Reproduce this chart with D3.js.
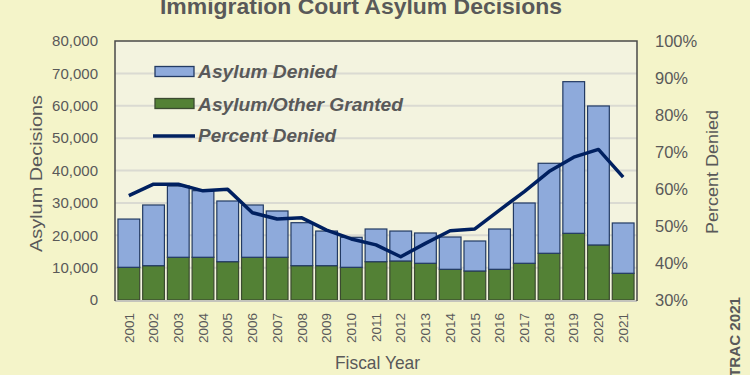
<!DOCTYPE html>
<html>
<head>
<meta charset="utf-8">
<script src="https://cdn.jsdelivr.net/npm/d3@7"></script>
<style>
  body { margin: 0; background: #f4f4c9; }
  text { font-family: "Liberation Sans", Arial, sans-serif; fill: #595959; }
</style>
</head>
<body>
<div id="chart"></div>
<script>
const years = ["2001", "2002", "2003", "2004", "2005", "2006", "2007", "2008", "2009", "2010", "2011",
    "2012", "2013", "2014", "2015", "2016", "2017", "2018", "2019", "2020", "2021"]
const grantedValues = [10100, 10600, 13200, 13200, 11830, 13200, 13200, 10600, 10600, 10100, 11830,
    12050, 11340, 9480, 8960, 9480, 11340, 14430, 20600, 17000, 8250]
const deniedValues = [14900, 18750, 22000, 20570, 18750, 16150, 14300, 13280, 10700, 9270, 10100,
    9250, 9360, 9980, 9265, 12450, 18620, 27800, 46840, 42930, 15540]
const percentDenied = [58.2, 61.3, 61.3, 59.5, 59.9, 53.6, 51.9, 52.2, 48.9, 46.5, 44.9,
    41.7, 45.3, 48.7, 49.2, 54.3, 59.3, 64.7, 68.6, 70.7, 63.2]
const leftTicks = [0, 10000, 20000, 30000, 40000, 50000, 60000, 70000, 80000]
const rightTicks = [30, 40, 50, 60, 70, 80, 90, 100]
const legendLabels = ["Asylum Denied", "Asylum/Other Granted", "Percent Denied"]

class AsylumChart {
    constructor(_config) {
        this.config = {
            parentElement: _config.parentElement,
            containerWidth: 750,
            containerHeight: 375,
            plot: { left: 115, right: 637, top: 41, bottom: 300 }
        }
        this.data = years.map((y, i) => ({
            year: y,
            granted: grantedValues[i],
            denied: deniedValues[i],
            pct: percentDenied[i]
        }))
        this.initVis()
    }

    initVis() {
        var vis = this
        var p = vis.config.plot

        vis.svg = d3.select(vis.config.parentElement).append("svg")
            .attr("width", vis.config.containerWidth)
            .attr("height", vis.config.containerHeight)

        vis.svg.append("rect")
            .attr("width", vis.config.containerWidth)
            .attr("height", vis.config.containerHeight)
            .attr("fill", "#f4f4c9")

        vis.xScale = d3.scaleBand()
            .domain(years)
            .range([p.left, p.right])
            .paddingInner(0.12)
            .paddingOuter(0.12)
        vis.yScale = d3.scaleLinear()
            .domain([0, 80000])
            .range([p.bottom, p.top])
        vis.pScale = d3.scaleLinear()
            .domain([30, 100])
            .range([p.bottom, p.top])

        // plot area
        vis.svg.append("rect")
            .attr("x", p.left).attr("y", p.top)
            .attr("width", p.right - p.left).attr("height", p.bottom - p.top)
            .attr("fill", "#f3f3df")

        vis.svg.selectAll(".grid")
            .data(leftTicks.filter(d => d > 0 && d < 80000))
            .join("line")
            .attr("class", "grid")
            .attr("x1", p.left).attr("x2", p.right)
            .attr("y1", d => vis.yScale(d)).attr("y2", d => vis.yScale(d))
            .attr("stroke", "#dadad2")
            .attr("stroke-width", 2)

        vis.chart = vis.svg.append("g")

        // left axis labels
        vis.svg.append("g")
            .attr("class", "axis y-axis")
            .attr("transform", "translate(98,0)")
            .call(d3.axisLeft(vis.yScale).tickValues(leftTicks).tickSize(0).tickPadding(0)
                .tickFormat(d3.format(",")))
            .call(g => g.select(".domain").remove())
            .selectAll("text")
            .style("font-size", "15px")
            .attr("fill", "#595959")

        // right axis labels
        vis.svg.append("g")
            .attr("class", "axis p-axis")
            .attr("transform", "translate(655,0)")
            .call(d3.axisRight(vis.pScale).tickValues(rightTicks).tickSize(0).tickPadding(0)
                .tickFormat(d => d + "%"))
            .call(g => g.select(".domain").remove())
            .selectAll("text")
            .style("font-size", "16.5px")
            .attr("fill", "#595959")

        // x axis labels
        vis.svg.append("g")
            .attr("class", "axis x-axis")
            .attr("transform", "translate(0,313)")
            .call(d3.axisBottom(vis.xScale).tickSize(0).tickPadding(0))
            .call(g => g.select(".domain").remove())
            .selectAll("text")
            .style("font-size", "13.5px")
            .attr("fill", "#595959")
            .attr("text-anchor", "end")
            .attr("transform", "rotate(-90)")
            .attr("x", 0).attr("y", 0)
            .attr("dy", "0.35em")

        vis.svg.append("text")
            .attr("x", 361).attr("y", 14)
            .attr("text-anchor", "middle")
            .attr("textLength", 402).attr("lengthAdjust", "spacingAndGlyphs")
            .style("font-size", "22px").style("font-weight", "bold")
            .text("Immigration Court Asylum Decisions")

        vis.svg.append("text")
            .attr("transform", "translate(36,173.5) rotate(-90)")
            .attr("text-anchor", "middle").attr("dy", "0.35em")
            .attr("textLength", 157).attr("lengthAdjust", "spacingAndGlyphs")
            .style("font-size", "17px")
            .text("Asylum Decisions")

        vis.svg.append("text")
            .attr("transform", "translate(712,172) rotate(-90)")
            .attr("text-anchor", "middle").attr("dy", "0.35em")
            .attr("textLength", 124).attr("lengthAdjust", "spacingAndGlyphs")
            .style("font-size", "17px")
            .text("Percent Denied")

        vis.svg.append("text")
            .attr("x", 377.5).attr("y", 369)
            .attr("text-anchor", "middle")
            .attr("textLength", 85).attr("lengthAdjust", "spacingAndGlyphs")
            .style("font-size", "19px")
            .text("Fiscal Year")

        vis.svg.append("text")
            .attr("transform", "translate(740,377) rotate(-90)")
            .attr("text-anchor", "start")
            .attr("textLength", 80).attr("lengthAdjust", "spacingAndGlyphs")
            .style("font-size", "14px").style("font-weight", "bold")
            .text("TRAC 2021")

        vis.renderVis()
    }

    renderVis() {
        var vis = this
        var p = vis.config.plot

        vis.chart.selectAll(".bar-granted")
            .data(vis.data)
            .join("rect")
            .attr("class", "bar-granted")
            .attr("x", d => vis.xScale(d.year))
            .attr("width", vis.xScale.bandwidth())
            .attr("y", d => vis.yScale(d.granted))
            .attr("height", d => vis.yScale(0) - vis.yScale(d.granted))
            .attr("fill", "#538135")
            .attr("stroke", "#3b4a30")
            .attr("stroke-width", 1.2)

        vis.chart.selectAll(".bar-denied")
            .data(vis.data)
            .join("rect")
            .attr("class", "bar-denied")
            .attr("x", d => vis.xScale(d.year))
            .attr("width", vis.xScale.bandwidth())
            .attr("y", d => vis.yScale(d.granted + d.denied))
            .attr("height", d => vis.yScale(d.granted) - vis.yScale(d.granted + d.denied))
            .attr("fill", "#8eaadb")
            .attr("stroke", "#223a63")
            .attr("stroke-width", 1.2)

        var line = d3.line()
            .x(d => vis.xScale(d.year) + vis.xScale.bandwidth() / 2)
            .y(d => vis.pScale(d.pct))

        vis.chart.append("path")
            .datum(vis.data)
            .attr("d", line)
            .attr("fill", "none")
            .attr("stroke", "#002060")
            .attr("stroke-width", 3.5)
            .attr("stroke-linejoin", "round")

        // plot frame: dark left/top/right, light bottom
        vis.svg.append("line")
            .attr("x1", p.left).attr("x2", p.right)
            .attr("y1", p.bottom + 1).attr("y2", p.bottom + 1)
            .attr("stroke", "#c4c4bc").attr("stroke-width", 2)
        vis.svg.append("path")
            .attr("d", `M${p.left},${p.bottom + 1}V${p.top}H${p.right}V${p.bottom + 1}`)
            .attr("fill", "none")
            .attr("stroke", "#4a4a4a")
            .attr("stroke-width", 1.5)

        // legend
        var legendBase = [77.5, 110.5, 142]
        var legendWidths = [139, 205, 138]
        var legend = vis.svg.append("g").attr("class", "legend")
        legend.append("rect")
            .attr("x", 155).attr("y", legendBase[0] - 11)
            .attr("width", 39).attr("height", 10)
            .attr("fill", "#8eaadb").attr("stroke", "#223a63").attr("stroke-width", 1.3)
        legend.append("rect")
            .attr("x", 155).attr("y", legendBase[1] - 12)
            .attr("width", 39).attr("height", 10)
            .attr("fill", "#538135").attr("stroke", "#3b4a30").attr("stroke-width", 1.3)
        legend.append("line")
            .attr("x1", 153).attr("x2", 195)
            .attr("y1", legendBase[2] - 6).attr("y2", legendBase[2] - 6)
            .attr("stroke", "#002060").attr("stroke-width", 3.5)
        legend.selectAll(".legend-label")
            .data(legendLabels)
            .join("text")
            .attr("class", "legend-label")
            .attr("x", 198)
            .attr("y", (d, i) => legendBase[i])
            .attr("textLength", (d, i) => legendWidths[i])
            .attr("lengthAdjust", "spacingAndGlyphs")
            .style("font-size", "18px")
            .style("font-weight", "bold")
            .style("font-style", "italic")
            .text(d => d)
    }
}

new AsylumChart({ parentElement: "#chart" })
</script>
</body>
</html>
